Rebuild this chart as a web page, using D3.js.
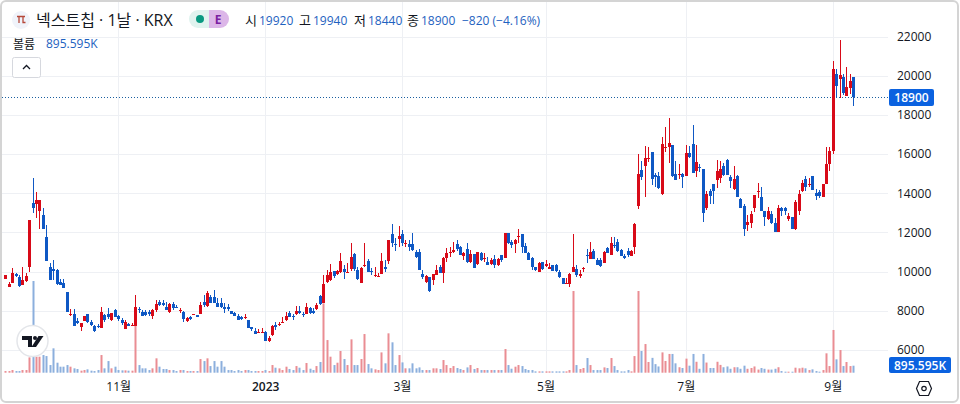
<!DOCTYPE html>
<html>
<head>
<meta charset="utf-8">
<style>
    body { margin: 0; background: #fff; }
    svg { display: block; }
    text { font-family: "Open Sans", "Noto Sans CJK KR", sans-serif; }
    .axis path, .axis line { display: none; }
    .axis text { font-size: 12px; fill: #131722; }
</style>
</head>
<body>
<svg></svg>
<script src="https://d3js.org/d3.v7.min.js"></script>
<script>

    // daily prices (KRW)
    var opens = [
        9650,9190,9440,9870,9720,9340,9540,10220,13520,13420,
        13110,12890,11770,10240,10140,10070,9490,9430,8970,7810,
        7850,7490,7170,7500,7830,7420,7220,7200,7130,7790,
        7850,7500,8050,7710,7540,7100,7340,7250,7250,8080,
        7960,7960,7930,7740,8050,8470,8390,8220,7930,8340,
        8220,8000,7960,7450,7690,7780,7810,7860,8470,8250,
        8730,8730,8400,8390,8220,8170,7980,7910,7740,7660,
        7600,7540,7150,6990,6890,6870,6940,6480,6740,7280,
        7250,7420,7500,7890,7740,7840,8000,7840,7840,8120,
        8010,8100,8780,8390,9490,9580,10020,9880,10000,10140,
        9950,10120,10890,10100,9410,10310,10550,10040,9750,9770,
        9880,10240,10510,11920,11410,11670,11920,11410,11410,11410,
        10990,11020,9870,9480,9710,9580,9850,10240,9950,10720,
        10970,11020,11410,11280,10800,11160,10480,10900,10380,10970,
        10620,10510,10380,10650,10330,10850,10720,11960,11500,11400,
        11790,11920,11310,10970,10680,10220,10020,10500,10260,10170,
        10340,10340,9970,9680,9410,9370,9990,10120,9780,10110,
        10840,10650,11070,10600,10600,10460,11230,10850,11360,11520,
        11110,10800,11040,10840,11280,13350,15190,15360,15750,16110,
        14940,14880,13950,16280,16330,16470,14990,14940,14970,14900,
        16060,16520,15160,15330,15220,13240,14120,14480,14680,14780,
        15390,15700,14850,14200,14880,13710,13350,12390,12510,13270,
        14050,13800,13070,12640,12930,12470,12010,13270,13270,12690,
        12780,12170,13120,14100,14730,14430,14890,14000,14050,13830,
        14500,15480,16130,20090,19830,19950,18970,19370,19920];
    var highs = [
        9830,9490,10170,9920,9820,10220,9920,12640,14760,14080,
        13660,13230,12380,10430,10600,10140,9630,9630,8970,8080,
        8080,7620,7390,7740,7830,7540,7280,7340,8220,7850,
        8130,7880,8100,7790,7620,7540,7400,7370,8810,8220,
        8020,8030,8020,8080,8560,8560,8560,8470,8390,8440,
        8300,8130,8010,7670,7710,7830,7810,8470,8810,9030,
        8810,9070,8640,8640,8390,8340,8010,7960,7840,7710,
        7840,7540,7160,7130,7080,7110,6990,6690,7280,7450,
        7450,7660,7960,8000,7840,8250,8250,7960,8390,8220,
        8130,8390,8810,9830,10090,10390,10020,10090,10970,10340,
        10430,11480,10940,10260,10260,11480,10630,10170,10220,9920,
        10970,10600,11620,12430,11700,12330,12130,11620,11620,11960,
        11110,11140,10090,9830,9750,9870,10340,10340,10730,11190,
        11240,11500,11620,11310,10990,11450,11110,10900,11020,11020,
        10940,10770,10680,10850,10680,10850,11990,11990,11620,11670,
        12180,11920,11450,11020,10730,10260,10510,10510,10600,10430,
        10340,10380,10090,9680,9660,9920,11920,10340,10090,10260,
        11140,11520,11140,10720,10720,11070,11280,11790,11750,11650,
        11140,10900,11190,11110,12470,16010,15650,16410,16380,16110,
        15020,15070,16890,17370,17830,16470,15650,15500,15020,16470,
        16410,17490,16470,15500,15220,14120,14200,14480,15700,15630,
        15530,15730,14940,15390,14940,13750,13460,12900,13080,13920,
        14510,14310,13070,13320,13070,12730,13410,13320,13320,12980,
        12810,13660,14170,14680,14900,14770,14890,14210,14170,14480,
        16380,16380,20750,20340,21820,20090,20460,20090,19940];
    var lows = [
        9650,9190,9440,9720,9200,9320,9490,10000,13010,12760,
        12160,12160,10560,9580,9580,9340,9320,9190,7960,7710,
        7250,7340,6980,7500,7400,7230,6940,7110,7110,7450,
        7590,7490,7680,7500,7280,7080,7200,7200,7200,7910,
        7710,7740,7760,7590,7960,8250,8270,8050,7910,8050,
        8130,7910,7450,7450,7540,7780,7700,7860,8220,8220,
        8390,8390,8200,8130,7910,8010,7830,7710,7540,7540,
        7570,7150,6980,6820,6860,6860,6450,6420,6720,7030,
        7200,7370,7490,7670,7540,7780,7840,7660,7830,7830,
        7840,8050,8300,8390,9440,9530,9660,9830,9920,9630,
        9920,10050,10040,9580,9410,10260,9970,9830,9750,9750,
        9880,10000,10390,11280,11070,11280,11310,11240,11040,11070,
        10680,10090,9610,9440,8980,9320,9820,9920,9440,10510,
        10770,10940,11070,10850,10600,10430,10430,10210,10340,10560,
        10510,10340,10340,10170,10310,10480,10680,11400,11190,10970,
        11450,10970,10940,10600,10090,10050,10000,10090,10220,10120,
        10040,10000,9700,9390,9370,9190,9990,9750,9700,9970,
        10460,10630,10650,10340,10260,10430,10940,10850,11190,11020,
        10800,10650,10770,10800,10900,13220,14680,13830,15620,14430,
        14310,14220,13920,16130,15560,14850,14680,14730,14270,14880,
        15790,15050,14850,15110,12520,13120,13460,13460,14260,14510,
        14880,14940,14260,14170,13800,13240,11840,12080,12250,13020,
        13780,13070,12350,12610,12440,12010,12010,12860,12900,12590,
        12180,12130,12900,14040,14090,14310,14170,13630,13780,13830,
        14480,15160,15990,18900,18850,19020,18970,19070,18440];
    var closes = [
        9830,9360,9940,9750,9240,9580,9770,12640,13250,13640,
        13660,12200,10560,9600,10040,9360,9360,9190,7960,7850,
        7250,7400,7390,7740,7400,7250,6940,7130,7950,7540,
        7710,7880,7710,7570,7400,7450,7230,7300,8200,8020,
        7740,7790,7830,8050,8360,8300,8300,8050,8350,8130,
        8170,8050,7600,7620,7590,7830,7710,8300,8320,8900,
        8420,8420,8200,8180,8130,8050,7840,7760,7550,7570,
        7670,7150,7030,6860,6920,6920,6480,6620,7200,7160,
        7320,7450,7710,7710,7670,8000,7910,7790,8220,7880,
        7910,8300,8390,9370,9830,10000,9750,10040,10550,9970,
        9990,10750,10120,9630,10160,10340,10000,9990,9820,9800,
        10550,10160,11600,11480,11360,11810,11450,11450,11280,11110,
        10720,10120,9710,9780,8980,9870,10090,9950,10700,10970,
        11020,11110,11140,10890,10940,10480,10890,10210,10990,10630,
        10680,10380,10600,10330,10650,10600,11990,11450,11350,11620,
        11840,11280,10970,10600,10220,10090,10460,10120,10380,10260,
        10040,10040,9730,9390,9440,9870,10240,9800,9880,10160,
        10770,10990,10680,10340,10290,11020,10990,11450,11310,11070,
        10800,10720,10850,11070,12430,14990,14820,15790,15790,14730,
        14830,14260,16500,16350,16550,14880,14680,14990,14800,16060,
        15840,15050,15600,15280,12950,13970,13860,14140,15140,15240,
        14940,14940,14650,14730,13830,13240,12200,12520,12950,13920,
        14100,13070,12780,13070,12470,12010,13250,13100,13140,12850,
        12180,13560,13970,14510,14340,14480,14170,13830,13830,14480,
        15500,16160,20340,19490,20040,19150,19430,19750,18900];
    // volume in thousands of shares
    var volumes = [
        210,210,340,210,210,340,340,1960,11740,2050,
        2050,2260,2130,980,3120,1280,770,770,980,770,
        560,470,260,340,430,260,210,340,2260,560,
        1490,560,770,340,300,300,260,260,6400,980,
        560,560,340,560,1840,770,470,470,340,340,
        210,340,340,210,210,210,210,1750,1490,1840,
        850,1490,770,1490,770,340,340,210,340,210,
        340,340,210,210,210,210,340,210,980,640,
        555,340,770,470,340,850,640,340,1240,510,
        340,850,1370,8880,4180,2050,980,1280,2780,1750,
        980,4270,980,980,1750,4950,1110,560,430,340,
        2600,1200,5040,3890,980,2260,1320,560,560,1200,
        560,680,340,340,340,560,560,470,1620,980,
        600,850,600,470,340,680,980,470,600,340,
        340,340,340,340,340,340,3030,980,510,770,
        980,850,470,340,340,170,170,170,170,170,
        170,170,170,170,170,340,10460,980,470,600,
        1880,980,340,340,340,680,600,1880,850,340,
        170,170,340,170,2130,10460,2780,3670,1370,1900,
        1100,800,2600,1500,2400,2400,1200,700,600,1800,
        900,2400,1400,500,2400,1300,600,600,1400,1000,
        700,800,500,700,700,500,900,500,600,800,
        400,600,500,400,400,500,700,210,130,130,
        130,640,560,640,560,340,430,210,130,340,
        2480,850,5470,1710,2900,850,1370,850,896];

    var priceTicks = [6000, 8000, 10000, 12000, 14000, 16000, 18000, 20000, 22000];
    var timeTickBars = [33, 76, 116, 158, 199, 242];
    var timeTickLabels = ["11월", "2023", "3월", "5월", "7월", "9월"];
    var lastPrice = 18900;

    var width = 960,
        height = 404,
        chartRight = 888,
        volumeBase = 372.7;

    var upColor = "#d80a18",
        downColor = "#0f58c4",
        upVolume = "#ea8d93",
        downVolume = "#8cafdd",
        gridColor = "#eef0f4",
        quoteColor = "#1e62c0",
        badgeColor = "#0b62e0";

    var svg = d3.select("svg")
        .attr("width", width)
        .attr("height", height);

    var x = d3.scaleLinear().domain([0, closes.length - 1]).range([5.3, 853.3]);
    var y = d3.scaleLinear().domain([6000, 22000]).range([350, 36.5]);
    var yVol = d3.scaleLinear().domain([0, d3.max(volumes)]).range([volumeBase, 281]);

    // grid
    svg.append("g").selectAll("line")
        .data(priceTicks)
        .enter().append("line")
        .attr("x1", 2).attr("x2", chartRight)
        .attr("y1", function (d) { return Math.round(y(d)) + 0.5; })
        .attr("y2", function (d) { return Math.round(y(d)) + 0.5; })
        .attr("stroke", gridColor);
    svg.append("g").selectAll("line")
        .data(timeTickBars)
        .enter().append("line")
        .attr("x1", function (d) { return Math.round(x(d)) + 0.5; })
        .attr("x2", function (d) { return Math.round(x(d)) + 0.5; })
        .attr("y1", 2).attr("y2", 373)
        .attr("stroke", gridColor);

    var bars = d3.range(closes.length);
    function isUp(i) { return closes[i] >= opens[i]; }

    // volume
    svg.append("g").selectAll("rect")
        .data(bars)
        .enter().append("rect")
        .attr("x", function (i) { return Math.round(x(i)) - 0.5; })
        .attr("width", 2)
        .attr("y", function (i) { return yVol(volumes[i]); })
        .attr("height", function (i) { return volumeBase - yVol(volumes[i]); })
        .attr("fill", function (i) { return isUp(i) ? upVolume : downVolume; });

    // dotted last price line
    svg.append("line")
        .attr("x1", 2).attr("x2", 889)
        .attr("y1", Math.round(y(lastPrice)) + 0.5).attr("y2", Math.round(y(lastPrice)) + 0.5)
        .attr("stroke", "#1a5fa0")
        .attr("stroke-dasharray", "1 2");

    // candles
    var candle = svg.append("g").selectAll("g")
        .data(bars)
        .enter().append("g")
        .attr("fill", function (i) { return isUp(i) ? upColor : downColor; });
    candle.append("rect")
        .attr("x", function (i) { return Math.round(x(i)); })
        .attr("width", 1)
        .attr("y", function (i) { return Math.round(y(highs[i])); })
        .attr("height", function (i) { return Math.round(y(lows[i])) - Math.round(y(highs[i])); });
    candle.append("rect")
        .attr("x", function (i) { return Math.round(x(i)) - 1; })
        .attr("width", 3)
        .attr("y", function (i) { return Math.round(y(Math.max(opens[i], closes[i]))); })
        .attr("height", function (i) { return Math.max(1, Math.round(Math.abs(y(opens[i]) - y(closes[i])))); });

    // axes
    svg.append("g")
        .attr("class", "axis")
        .attr("transform", "translate(889,0)")
        .call(d3.axisRight(y).tickValues(priceTicks).tickSize(0).tickPadding(8).tickFormat(d3.format("d")));
    svg.append("g")
        .attr("class", "axis")
        .attr("transform", "translate(0,378)")
        .call(d3.axisBottom(x).tickValues(timeTickBars).tickSize(0).tickPadding(4)
            .tickFormat(function (d, i) { return timeTickLabels[i]; }))
        .selectAll("text")
        .attr("font-weight", function (d, i) { return timeTickLabels[i] === "2023" ? 600 : 400; });

    // price badges
    svg.append("rect").attr("x", 889).attr("y", 89).attr("width", 45).attr("height", 17).attr("rx", 2).attr("fill", badgeColor);
    svg.append("text").attr("x", 911.5).attr("y", 102).attr("text-anchor", "middle")
        .attr("font-size", 12).attr("font-weight", 600).attr("fill", "#fff").text("18900");
    svg.append("rect").attr("x", 889).attr("y", 357).attr("width", 62).attr("height", 16).attr("rx", 2).attr("fill", badgeColor);
    svg.append("text").attr("x", 920).attr("y", 369.5).attr("text-anchor", "middle")
        .attr("font-size", 12).attr("font-weight", 600).attr("fill", "#fff").text("895.595K");

    // header
    svg.append("circle").attr("cx", 21).attr("cy", 20).attr("r", 9).attr("fill", "#f0f3fa");
    svg.append("path").attr("d", "M17 16.5H25M19 16.5V23M23 16.5V22.5H25.5")
        .attr("fill", "none").attr("stroke", "#b5483a").attr("stroke-width", 1.3);
    svg.append("text").attr("x", 36).attr("y", 26).attr("font-size", 16).attr("fill", "#131722")
        .text("넥스트칩 · 1날 · KRX");

    svg.append("path").attr("d", "M209 10H198a9 9 0 0 0 0 18H209Z").attr("fill", "#e0f3ef");
    svg.append("path").attr("d", "M209 10H220a9 9 0 0 1 0 18H209Z").attr("fill", "#dcb6e8");
    svg.append("circle").attr("cx", 200).attr("cy", 19).attr("r", 4).attr("fill", "#089981");
    svg.append("text").attr("x", 218).attr("y", 24).attr("text-anchor", "middle")
        .attr("font-size", 12).attr("font-weight", 700).attr("fill", "#7b1fa2").text("E");

    var quoteLabels = ["시", "고", "저", "종"];
    var quoteValues = ["19920", "19940", "18440", "18900"];
    var quoteX = [245, 299, 354, 407];
    quoteLabels.forEach(function (d, i) {
        svg.append("text").attr("x", quoteX[i]).attr("y", 25).attr("font-size", 13).attr("fill", "#131722").text(d);
        svg.append("text").attr("x", quoteX[i] + 14).attr("y", 25).attr("font-size", 12).attr("fill", quoteColor).text(quoteValues[i]);
    });
    svg.append("text").attr("x", 462).attr("y", 25).attr("font-size", 12).attr("fill", quoteColor).text("−820 (−4.16%)");

    svg.append("text").attr("x", 13).attr("y", 49).attr("font-size", 12).attr("fill", "#131722").text("볼륨");
    svg.append("text").attr("x", 46).attr("y", 48).attr("font-size", 12).attr("fill", quoteColor).text("895.595K");

    svg.append("rect").attr("x", 12.5).attr("y", 57.5).attr("width", 28).attr("height", 20).attr("rx", 2)
        .attr("fill", "#fff").attr("stroke", "#d6d8de");
    svg.append("path").attr("d", "M23 69L26.5 65.5L30 69").attr("fill", "none").attr("stroke", "#131722").attr("stroke-width", 1.3);

    // logo badge
    svg.append("circle").attr("cx", 32.5).attr("cy", 341).attr("r", 15.5)
        .attr("fill", "#fff").attr("stroke", "#e4e6ea").attr("stroke-width", 1.5);
    svg.append("path").attr("d", "M22 336H32V347H28V340H22Z").attr("fill", "#131722");
    svg.append("circle").attr("cx", 35).attr("cy", 338).attr("r", 2).attr("fill", "#131722");
    svg.append("path").attr("d", "M38.5 336H43.5L36 347H31.5Z").attr("fill", "#131722");

    // settings icon
    svg.append("path").attr("d", "M919.5 381.5H928.5L931.5 388.5L928.5 395.5H919.5L916.5 388.5Z")
        .attr("fill", "none").attr("stroke", "#131722").attr("stroke-width", 1.2);
    svg.append("circle").attr("cx", 924).attr("cy", 388.5).attr("r", 2.2)
        .attr("fill", "none").attr("stroke", "#131722").attr("stroke-width", 1.2);

    // frame
    svg.append("rect").attr("x", 1).attr("y", 1).attr("width", 957).attr("height", 401).attr("rx", 5)
        .attr("fill", "none").attr("stroke", "#d4d4d4").attr("stroke-width", 2);

</script>
</body>
</html>
